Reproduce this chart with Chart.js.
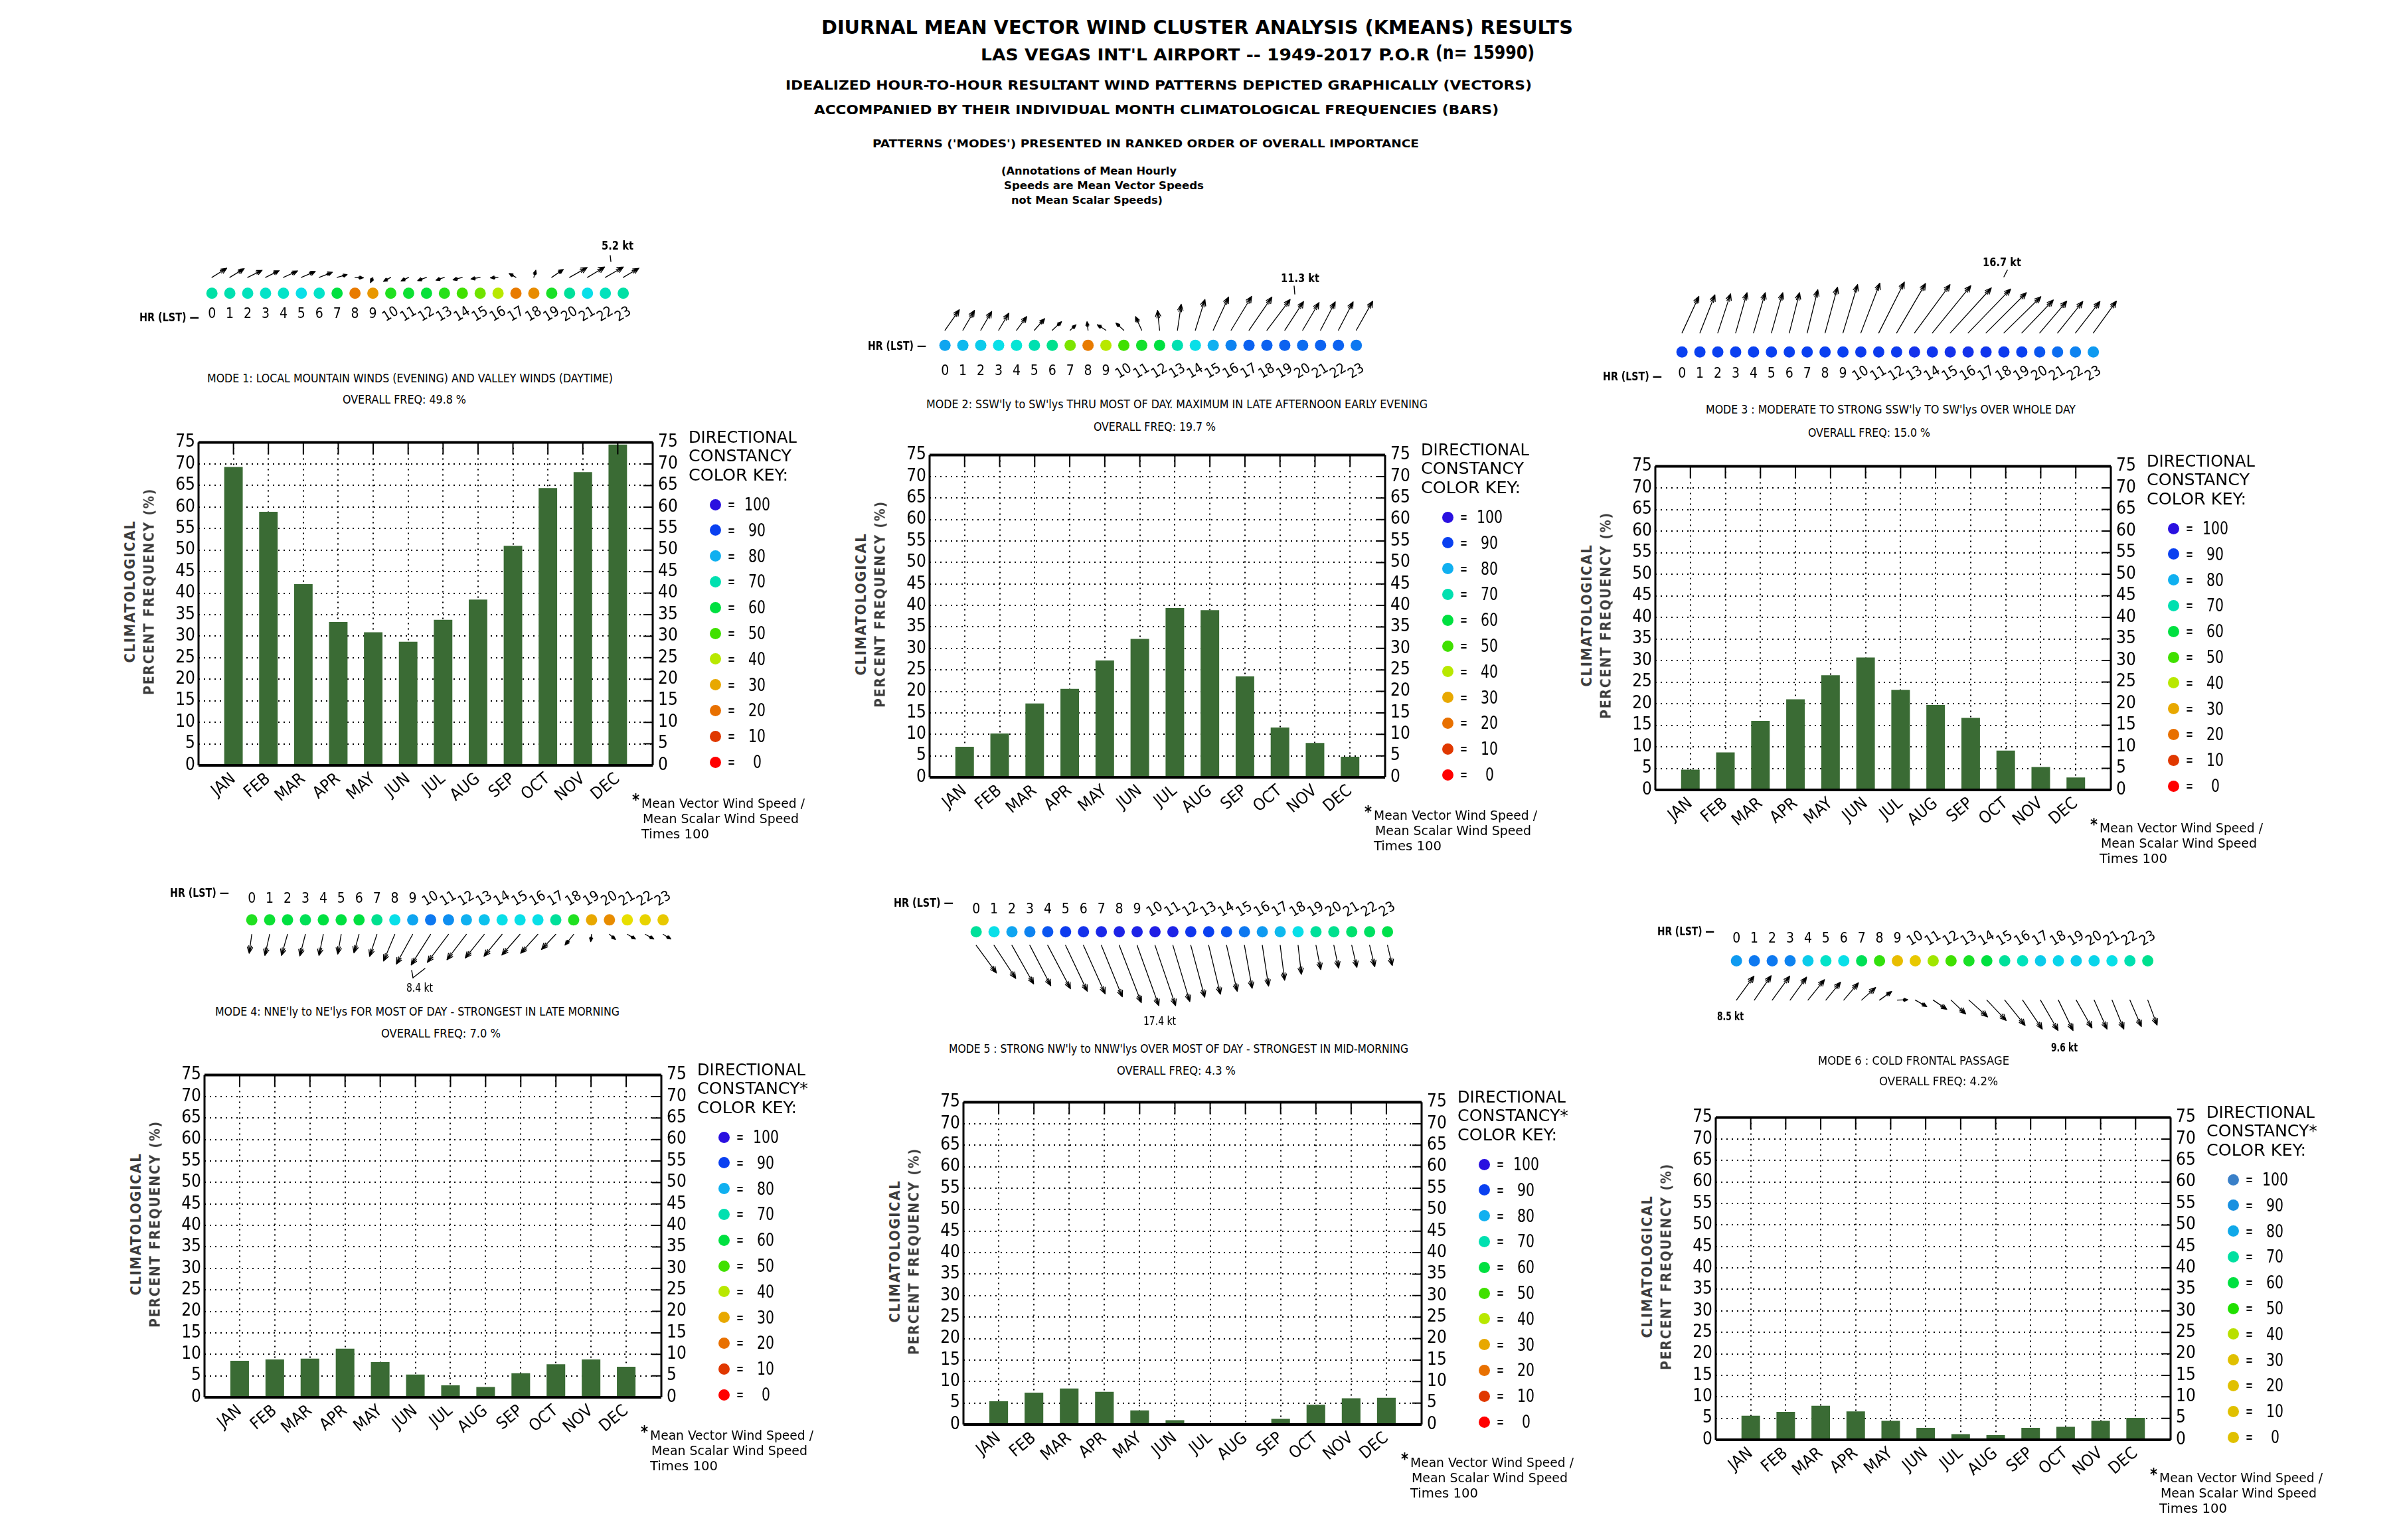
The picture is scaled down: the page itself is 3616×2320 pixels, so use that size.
<!DOCTYPE html>
<html>
<head>
<meta charset="UTF-8">
<title>Diurnal Mean Vector Wind Cluster Analysis - Las Vegas</title>
<script src="https://cdn.jsdelivr.net/npm/chart.js"></script>
<style>
html, body { margin: 0; padding: 0; background: #fff; }
#page { position: relative; width: 3616px; height: 2320px; overflow: hidden; background: #fff; color: #000;
  font-family: 'Liberation Sans Narrow', 'DejaVu Sans Condensed', 'Arial Narrow', sans-serif; }
.t { position: absolute; white-space: nowrap; transform-origin: 0 50%; }
.kd { position: absolute; width: 17px; height: 17px; border-radius: 50%; }
canvas { position: absolute; }
</style>
</head>
<body>
<div id="page"></div>
<script>
// ---------- data ----------
const months = ['JAN', 'FEB', 'MAR', 'APR', 'MAY', 'JUN', 'JUL', 'AUG', 'SEP', 'OCT', 'NOV', 'DEC'];
const hours = [0, 1, 2, 3, 4, 5, 6, 7, 8, 9, 10, 11, 12, 13, 14, 15, 16, 17, 18, 19, 20, 21, 22, 23];

// monthly climatological frequency (%) of each mode
const freqMode1 = [69.3, 58.9, 42.1, 33.3, 30.9, 28.7, 33.8, 38.5, 51.0, 64.4, 68.1, 74.5];
const freqMode2 = [7.1, 10.2, 17.2, 20.6, 27.2, 32.2, 39.4, 38.9, 23.5, 11.6, 8.0, 4.8];
const freqMode3 = [4.7, 8.7, 16.0, 21.0, 26.6, 30.7, 23.2, 19.7, 16.7, 9.1, 5.3, 2.9];
const freqMode4 = [8.5, 8.8, 9.0, 11.3, 8.2, 5.3, 2.8, 2.4, 5.6, 7.7, 8.8, 7.1];
const freqMode5 = [5.4, 7.4, 8.4, 7.6, 3.3, 1.0, 0.2, 0.1, 1.3, 4.6, 6.1, 6.2];
const freqMode6 = [5.6, 6.5, 7.9, 6.6, 4.4, 2.8, 1.3, 1.1, 2.8, 3.0, 4.4, 5.1];

// hourly directional constancy (dot colour)
const constMode1 = [69, 70, 71, 72, 72, 75, 72, 60, 22, 27, 55, 58, 59, 54, 50, 46, 40, 22, 25, 56, 68, 75, 71, 69];
const constMode2 = [81, 79, 77, 75, 73, 70, 67, 45, 22, 40, 50, 57, 60, 70, 75, 80, 84, 87, 87, 87, 86, 87, 87, 85];
const constMode3 = [90, 90, 90, 90, 90, 90, 90, 90, 90, 90, 91, 91, 91, 93, 92, 93, 93, 92, 91, 90, 88, 86, 84, 82];
const constMode4 = [55, 58, 60, 62, 60, 60, 60, 67, 75, 81, 85, 83, 80, 78, 75, 75, 75, 68, 55, 30, 25, 35, 34, 33];
const constMode5 = [68, 75, 81, 84, 88, 91, 93, 95, 96, 96, 97, 96, 92, 90, 88, 85, 82, 79, 75, 68, 67, 64, 63, 61];
const constMode6 = [82, 85, 85, 84, 77, 72, 75, 62, 52, 32, 33, 42, 50, 56, 60, 68, 71, 77, 76, 77, 76, 75, 70, 67];

// hourly mean vector wind, east (u) and north (v) components, kt
const uMode1 = [3.7, 3.6, 3.6, 3.4, 3.5, 3.5, 3.3, 2.5, 2.1, -0.6, -1.8, -1.9, -2.2, -2.1, -2.3, -2.3, -1.9, -1.7, 0.5, 2.9, 4.4, 4.3, 4.5, 3.9];
const vMode1 = [2.3, 2.2, 1.8, 1.7, 1.6, 1.5, 1.3, 0.7, -0.1, -1.3, -1.0, -0.9, -0.8, -0.7, -0.6, -0.4, -0.1, 1.0, 1.8, 2.0, 2.5, 2.6, 2.6, 2.3];
const uMode2 = [4.2, 3.4, 3.2, 3.0, 3.0, 3.0, 2.7, 1.7, -0.3, -2.5, -2.3, -1.8, -0.6, 1.1, 2.8, 4.5, 6.0, 6.7, 6.8, 5.5, 4.8, 4.3, 4.3, 4.8];
const vMode2 = [6.0, 5.8, 5.5, 5.0, 4.0, 3.4, 2.5, 1.6, 2.5, 1.6, 2.1, 4.0, 5.8, 7.6, 9.0, 9.7, 9.9, 9.7, 9.0, 8.4, 8.1, 8.3, 8.3, 8.5];
const uMode3 = [4.6, 4.1, 3.5, 3.1, 3.2, 3.1, 2.8, 2.9, 3.4, 4.0, 5.2, 7.0, 7.9, 9.7, 10.5, 11.2, 11.6, 11.0, 10.1, 8.6, 7.4, 6.9, 6.7, 6.3];
const vMode3 = [10.0, 10.4, 10.7, 11.0, 11.0, 11.0, 11.0, 11.8, 12.5, 13.2, 13.6, 13.9, 13.5, 13.2, 12.9, 12.3, 12.0, 11.0, 9.9, 9.0, 8.7, 8.6, 8.6, 8.7];
const uMode4 = [-0.6, -1.1, -1.4, -1.3, -1.0, -0.8, -1.2, -1.7, -2.6, -3.8, -4.5, -4.9, -4.5, -4.4, -4.2, -4.2, -4.0, -3.3, -2.0, -0.2, 1.4, 1.9, 2.0, 1.8];
const vMode4 = [-4.4, -4.9, -4.9, -5.0, -4.9, -4.6, -4.3, -5.1, -6.2, -6.9, -7.1, -6.5, -5.9, -5.5, -5.1, -4.8, -4.4, -3.5, -2.5, -1.7, -1.2, -1.1, -1.1, -1.1];
const uMode5 = [5.5, 5.9, 5.9, 5.7, 6.2, 5.9, 5.9, 5.7, 6.0, 5.9, 5.6, 4.6, 3.8, 3.2, 2.9, 2.1, 1.7, 1.2, 0.9, 1.3, 1.3, 1.4, 1.4, 1.3];
const vMode5 = [-7.5, -9.0, -10.5, -11.0, -11.8, -12.5, -13.2, -14.0, -15.6, -16.4, -16.4, -15.3, -14.1, -13.3, -12.5, -11.7, -11.1, -9.5, -7.9, -6.6, -6.2, -6.0, -5.8, -5.5];
const uMode6 = [4.9, 4.7, 4.9, 4.6, 4.6, 4.1, 4.1, 3.9, 3.4, 2.9, 3.2, 3.8, 4.1, 5.2, 5.4, 5.7, 5.5, 4.9, 4.1, 4.4, 3.6, 3.3, 3.2, 2.6];
const vMode6 = [6.7, 6.8, 6.7, 6.4, 5.7, 5.0, 4.8, 3.5, 2.4, 0.1, -1.8, -2.6, -3.9, -4.7, -5.7, -7.1, -8.1, -8.5, -8.5, -7.8, -8.1, -8.1, -7.4, -7.0];

// colour key
const keyValues = [100, 90, 80, 70, 60, 50, 40, 30, 20, 10, 0];
const keyColors = ['#2a10e0', '#0a40f0', '#10b0f0', '#00e0b0', '#00e040', '#40e000', '#b8e800', '#e8a800', '#e87000', '#e03800', '#ff0000'];
const keyColorsMode6 = ['#3a80c8', '#1890e0', '#10a8e8', '#00e0a0', '#00e040', '#20e000', '#b8e000', '#e0c000', '#e0c000', '#e0c000', '#e0c000'];

const modeTitles = [
  'MODE 1:  LOCAL MOUNTAIN WINDS (EVENING) AND VALLEY WINDS (DAYTIME)',
  "MODE 2: SSW'ly to SW'lys THRU MOST OF DAY. MAXIMUM IN LATE AFTERNOON EARLY EVENING",
  "MODE 3 :  MODERATE TO STRONG SSW'ly TO SW'lys OVER WHOLE DAY",
  "MODE 4:  NNE'ly to NE'lys FOR MOST OF DAY - STRONGEST IN LATE MORNING",
  "MODE 5 :  STRONG NW'ly to NNW'lys OVER MOST OF DAY - STRONGEST IN MID-MORNING",
  'MODE 6 :   COLD FRONTAL PASSAGE'
];
const overallFreq = ['OVERALL FREQ: 49.8 %', 'OVERALL FREQ: 19.7 %', 'OVERALL FREQ: 15.0 %',
  'OVERALL FREQ:  7.0 %', 'OVERALL FREQ:  4.3 %', 'OVERALL FREQ: 4.2%'];

// ---------- layout (pixels) ----------
const NARROW = "'Liberation Sans Narrow', 'DejaVu Sans Condensed', 'Arial Narrow', sans-serif";
const BAR_GREEN = '#3a6b34';
const STEP = 27.5; // px per hour on the dot rows

const panels = [
  { box: [299, 663, 983, 1153], vec: { dot0: 313, dotY: 444, tailY: 417, numY: 480, top: 350, bot: 500, kpx: 6.8 },
    hr: [210, 300, 478], mode: [312, 923, 570], freq: [516, 702, 602],
    kt: [{ t: '5.2 kt', x1: 906, x2: 954, y: 370, bold: true }], leaders: [[919, 385, 920, 394]] },
  { box: [1400, 682, 2086, 1171], vec: { dot0: 1417, dotY: 523, tailY: 498, numY: 566, top: 395, bot: 590, kpx: 5.65 },
    hr: [1307, 1395, 521], mode: [1395, 2150, 609], freq: [1647, 1831, 643],
    kt: [{ t: '11.3 kt', x1: 1929, x2: 1987, y: 419, bold: true }], leaders: [[1949, 431, 1950, 443]] },
  { box: [2493, 699, 3179, 1190], vec: { dot0: 2527, dotY: 534, tailY: 503, numY: 570, top: 380, bot: 592, kpx: 6.0 },
    hr: [2414, 2503, 567], mode: [2569, 3126, 617], freq: [2723, 2907, 652],
    kt: [{ t: '16.7 kt', x1: 2986, x2: 3044, y: 395, bold: true }], leaders: [[3023, 407, 3018, 417]] },
  { box: [308, 1616, 996, 2105], vec: { dot0: 373.5, dotY: 1383, tailY: 1407, numY: 1348, top: 1325, bot: 1500, kpx: 7.2 },
    hr: [256, 345, 1345], mode: [324, 933, 1524], freq: [574, 754, 1557],
    kt: [{ t: '8.4 kt', x1: 612, x2: 652, y: 1488 }], leaders: [[620, 1462, 622, 1473], [622, 1473, 640, 1459]] },
  { box: [1451, 1657, 2141, 2146], vec: { dot0: 1464, dotY: 1400, tailY: 1422, numY: 1364, top: 1340, bot: 1560, kpx: 6.0 },
    hr: [1346, 1436, 1360], mode: [1429, 2121, 1580], freq: [1682, 1861, 1613],
    kt: [{ t: '17.4 kt', x1: 1722, x2: 1771, y: 1538 }], leaders: [] },
  { box: [2584, 1680, 3269, 2169], vec: { dot0: 2609, dotY: 1444, tailY: 1508, numY: 1408, top: 1380, bot: 1600, kpx: 5.85 },
    hr: [2496, 2582, 1403], mode: [2738, 3026, 1598], freq: [2830, 3009, 1629],
    kt: [{ t: '8.5 kt', x1: 2586, x2: 2626, y: 1531, bold: true }, { t: '9.6 kt', x1: 3089, x2: 3129, y: 1578, bold: true }], leaders: [] }
];

const page = document.getElementById('page');

// ---------- helpers ----------
function hexRgb(h) { return [1, 3, 5].map(i => parseInt(h.substr(i, 2), 16)); }

// interpolate the key, keeping the brightness of the key colours
function constancyColor(val) {
  const i = Math.max(0, Math.min(9, Math.floor((100 - val) / 10)));
  const t = (keyValues[i] - val) / 10;
  const a = hexRgb(keyColors[i]), b = hexRgb(keyColors[i + 1]);
  const c = a.map((x, k) => x + (b[k] - x) * t);
  const want = Math.max(...a) * (1 - t) + Math.max(...b) * t;
  const f = want / Math.max(1, Math.max(...c));
  return 'rgb(' + c.map(x => Math.min(255, Math.round(x * f))).join(',') + ')';
}

// text stretched to fit [x1, x2], vertically centred on yc
function fitText(str, x1, x2, yc, size, o = {}) {
  const d = document.createElement('div');
  d.className = 't';
  d.textContent = str;
  d.style.font = (o.bold ? 'bold ' : '') + size + 'px ' + (o.family || NARROW);
  d.style.lineHeight = size + 'px';
  d.style.left = x1 + 'px';
  d.style.top = (yc - size / 2) + 'px';
  if (o.color) d.style.color = o.color;
  page.appendChild(d);
  const w = d.getBoundingClientRect().width;
  d.style.transform = 'scaleX(' + ((x2 - x1) / w).toFixed(4) + ')';
  return d;
}

// rotated (bottom-to-top) text of given length centred on (xc, yc)
function vText(str, xc, yc, len, size, o = {}) {
  const d = document.createElement('div');
  d.className = 't';
  d.textContent = str;
  d.style.font = (o.bold ? 'bold ' : '') + size + 'px ' + (o.family || NARROW);
  d.style.lineHeight = size + 'px';
  if (o.color) d.style.color = o.color;
  if (o.ls) d.style.letterSpacing = o.ls + 'px';
  page.appendChild(d);
  const r = d.getBoundingClientRect();
  d.style.left = (xc - r.width / 2) + 'px';
  d.style.top = (yc - r.height / 2) + 'px';
  d.style.transformOrigin = '50% 50%';
  d.style.transform = 'rotate(-90deg) scaleX(' + (len / r.width).toFixed(4) + ')';
}

function makeCanvas(left, top, w, h) {
  const c = document.createElement('canvas');
  c.width = w; c.height = h;
  c.style.left = left + 'px'; c.style.top = top + 'px';
  c.style.width = w + 'px'; c.style.height = h + 'px';
  page.appendChild(c);
  return c;
}

// shaft plus a feathered (double barbed) head
function drawArrow(ctx, x0, y0, x1, y1) {
  const dx = x1 - x0, dy = y1 - y0, len = Math.hypot(dx, dy);
  if (len < 1) return;
  const hl = Math.min(10, Math.max(6, len * 0.35));
  const a = Math.atan2(dy, dx);
  ctx.beginPath();
  ctx.moveTo(x0, y0); ctx.lineTo(x1, y1);
  for (const s of [-1, 1]) {
    ctx.moveTo(x1, y1);
    ctx.lineTo(x1 - hl * Math.cos(a + s * 0.42), y1 - hl * Math.sin(a + s * 0.42));
    ctx.moveTo(x1, y1);
    ctx.lineTo(x1 - hl * 1.15 * Math.cos(a + s * 0.18), y1 - hl * 1.15 * Math.sin(a + s * 0.18));
  }
  ctx.stroke();
}

// box around the plot, inner ticks on top and right
const framePlugin = {
  id: 'frame',
  afterDatasetsDraw(chart) {
    const { ctx, chartArea: a, scales } = chart;
    ctx.save();
    ctx.strokeStyle = '#000';
    ctx.lineWidth = 2;
    ctx.beginPath();
    months.forEach((m, i) => {
      const px = scales.x.getPixelForValue(i + 1);
      ctx.moveTo(px, a.top); ctx.lineTo(px, a.top + 18);
    });
    scales.y.ticks.forEach(t => {
      if (t.value <= 0 || t.value >= 75) return;
      const py = scales.y.getPixelForValue(t.value);
      ctx.moveTo(a.right - 14, py); ctx.lineTo(a.right, py);
    });
    ctx.stroke();
    ctx.lineWidth = 4;
    ctx.beginPath();
    ctx.moveTo(a.left, a.top); ctx.lineTo(a.right, a.top);
    ctx.moveTo(a.left, a.bottom); ctx.lineTo(a.right, a.bottom);
    ctx.stroke();
    ctx.lineWidth = 3;
    ctx.beginPath();
    ctx.moveTo(a.left, a.top); ctx.lineTo(a.left, a.bottom);
    ctx.moveTo(a.right, a.top); ctx.lineTo(a.right, a.bottom);
    ctx.stroke();
    ctx.restore();
  }
};

function barChart(p, values) {
  const [L, T, R, B] = p.box;
  const YW = 70, PT = 20, XH = 110;
  const c = makeCanvas(L - YW, T - PT, (R - L) + 2 * YW, (B - T) + PT + XH);
  const tickFont = { family: NARROW, size: 26 };
  new Chart(c, {
    type: 'bar',
    data: {
      labels: [''].concat(months, ['']),
      datasets: [{
        data: [null].concat(values, [null]),
        backgroundColor: BAR_GREEN,
        barPercentage: 0.53,
        categoryPercentage: 1,
        yAxisID: 'y'
      }]
    },
    options: {
      responsive: false, animation: false, devicePixelRatio: 1, events: [],
      layout: { padding: { top: PT, left: 0, right: 0, bottom: 0 } },
      plugins: { legend: { display: false }, tooltip: { enabled: false } },
      scales: {
        x: {
          type: 'category', offset: false,
          grid: { offset: false, color: '#000', lineWidth: 2, drawTicks: false },
          border: { display: false, dash: [2, 6] },
          ticks: { color: '#000', font: { family: NARROW, size: 25 }, minRotation: 40, maxRotation: 40, autoSkip: false, padding: 6 },
          afterFit(s) { s.height = XH; }
        },
        y: {
          position: 'left', min: 0, max: 75,
          grid: { color: '#000', lineWidth: 2, drawTicks: false },
          border: { display: false, dash: [2, 6] },
          ticks: { stepSize: 5, color: '#000', font: tickFont, padding: 5, autoSkip: false },
          afterFit(s) { s.width = YW; }
        },
        y2: {
          position: 'right', min: 0, max: 75,
          grid: { display: false, drawTicks: false },
          border: { display: false },
          ticks: { stepSize: 5, color: '#000', font: tickFont, padding: 8, autoSkip: false },
          afterFit(s) { s.width = YW; }
        }
      }
    },
    plugins: [framePlugin]
  });
}

function vectorChart(p, idx, u, v, cst) {
  const g = p.vec;
  const HX0 = -5, HX1 = 25;
  const left = Math.round(g.dot0 + HX0 * STEP), top = g.top;
  const w = (HX1 - HX0) * STEP, h = g.bot - g.top;
  const c = makeCanvas(left, top, w, h);
  const toVal = Y => (g.bot - Y) / g.kpx;   // page pixel row -> kt on this chart's y scale

  const arrows = {
    id: 'arrows' + idx,
    afterDatasetsDraw(chart) {
      const { ctx, scales: { x, y } } = chart;
      const ppk = y.getPixelForValue(0) - y.getPixelForValue(1);
      const yTail = y.getPixelForValue(toVal(g.tailY));
      ctx.save();
      ctx.strokeStyle = '#000'; ctx.lineWidth = 1.3; ctx.lineCap = 'round'; ctx.lineJoin = 'round';
      hours.forEach((hr, i) => {
        const x0 = x.getPixelForValue(hr);
        drawArrow(ctx, x0, yTail, x0 + u[i] * ppk, yTail - v[i] * ppk);
      });
      const yNum = y.getPixelForValue(toVal(g.numY));
      ctx.fillStyle = '#000';
      ctx.font = '21px ' + NARROW;
      ctx.textAlign = 'center'; ctx.textBaseline = 'middle';
      hours.forEach(hr => {
        ctx.save();
        ctx.translate(x.getPixelForValue(hr), yNum);
        if (hr >= 10) ctx.rotate(-0.55);
        ctx.fillText(String(hr), 0, 0);
        ctx.restore();
      });
      ctx.lineWidth = 1.4;
      p.leaders.forEach(([x1, y1, x2, y2]) => {
        ctx.beginPath(); ctx.moveTo(x1 - left, y1 - top); ctx.lineTo(x2 - left, y2 - top); ctx.stroke();
      });
      ctx.restore();
    }
  };

  new Chart(c, {
    type: 'scatter',
    data: {
      datasets: [{
        data: hours.map(hr => ({ x: hr, y: toVal(g.dotY) })),
        backgroundColor: cst.map(constancyColor),
        borderWidth: 0,
        pointRadius: 8.5,
        pointHoverRadius: 8.5
      }]
    },
    options: {
      responsive: false, animation: false, devicePixelRatio: 1, events: [],
      layout: { padding: 0 },
      plugins: { legend: { display: false }, tooltip: { enabled: false } },
      scales: {
        x: { type: 'linear', min: HX0, max: HX1, display: false },
        y: { type: 'linear', min: 0, max: h / g.kpx, display: false }
      }
    },
    plugins: [arrows]
  });
}

function drawKey(p, colors, star) {
  const [L, T, R, B] = p.box;
  fitText('DIRECTIONAL', R + 54, R + 217, T - 5, 25);
  fitText(star ? 'CONSTANCY*' : 'CONSTANCY', R + 54, R + (star ? 221 : 209), T + 23, 25);
  fitText('COLOR KEY:', R + 54, R + 204, T + 52, 25);
  keyValues.forEach((val, i) => {
    const y = T + 97 + i * 38.8;
    const d = document.createElement('div');
    d.className = 'kd';
    d.style.left = (R + 94 - 8.5) + 'px';
    d.style.top = (y - 8.5) + 'px';
    d.style.background = colors[i];
    page.appendChild(d);
    fitText('=', R + 113, R + 124, y, 24);
    const s = String(val), sw = s.length * 13;
    fitText(s, R + 157 - sw / 2, R + 157 + sw / 2, y, 26);
  });
  fitText('*', R - 31, R - 20, B + 52, 24, { bold: true });
  fitText('Mean Vector Wind Speed /', R - 17, R + 229, B + 57, 20);
  fitText('Mean Scalar Wind Speed', R - 15, R + 220, B + 80, 20);
  fitText('Times 100', R - 17, R + 85, B + 103, 20);
}

// ---------- titles ----------
fitText('DIURNAL MEAN VECTOR WIND CLUSTER ANALYSIS (KMEANS) RESULTS', 1237, 2369, 42, 28, { bold: true });
fitText("LAS VEGAS INT'L AIRPORT  -- 1949-2017 P.O.R", 1477, 2153, 82, 25, { bold: true });
fitText('(n= 15990)', 2162, 2311, 79, 29, { bold: true });
fitText('IDEALIZED HOUR-TO-HOUR RESULTANT WIND PATTERNS DEPICTED GRAPHICALLY (VECTORS)', 1183, 2307, 128, 20, { bold: true });
fitText('ACCOMPANIED BY THEIR INDIVIDUAL MONTH CLIMATOLOGICAL FREQUENCIES (BARS)', 1226, 2257, 165, 20, { bold: true });
fitText("PATTERNS ('MODES') PRESENTED IN RANKED ORDER OF OVERALL IMPORTANCE", 1314, 2137, 217, 16, { bold: true });
fitText('(Annotations of Mean Hourly', 1508, 1772, 258, 16, { bold: true });
fitText('Speeds are Mean Vector Speeds', 1512, 1813, 280, 16, { bold: true });
fitText('not Mean Scalar Speeds)', 1523, 1751, 302, 16, { bold: true });

// ---------- six modes ----------
const freqs = [freqMode1, freqMode2, freqMode3, freqMode4, freqMode5, freqMode6];
const consts = [constMode1, constMode2, constMode3, constMode4, constMode5, constMode6];
const us = [uMode1, uMode2, uMode3, uMode4, uMode5, uMode6];
const vs = [vMode1, vMode2, vMode3, vMode4, vMode5, vMode6];

panels.forEach((p, i) => {
  const [L, T] = p.box;
  barChart(p, freqs[i]);
  vectorChart(p, i, us[i], vs[i], consts[i]);
  drawKey(p, i === 5 ? keyColorsMode6 : keyColors, i >= 3);
  vText('CLIMATOLOGICAL', L - 103, T + 228, 215, 22, { bold: true, family: "'DejaVu Sans', sans-serif", color: '#3c3c3c', ls: 2 });
  vText('PERCENT FREQUENCY (%)', L - 74, T + 228, 312, 22, { bold: true, family: "'DejaVu Sans', sans-serif", color: '#3c3c3c', ls: 2 });
  fitText('HR (LST)  \u2014', p.hr[0], p.hr[1], p.hr[2], 17, { bold: true });
  fitText(modeTitles[i], p.mode[0], p.mode[1], p.mode[2], 18);
  fitText(overallFreq[i], p.freq[0], p.freq[1], p.freq[2], 18);
  p.kt.forEach(k => fitText(k.t, k.x1, k.x2, k.y, 18, { bold: !!k.bold }));
});
</script>
</body>
</html>
